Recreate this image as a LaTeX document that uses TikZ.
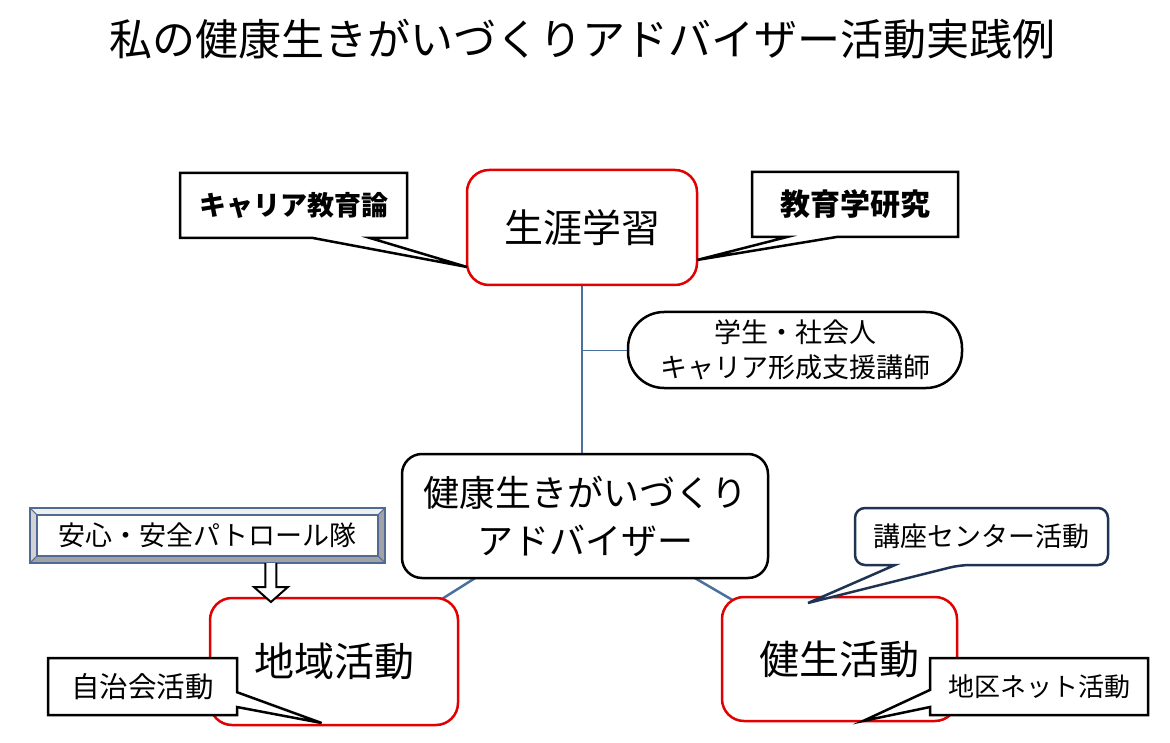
\documentclass[tikz,border=0pt]{standalone}
\usepackage{fontspec}
\setmainfont{Noto Sans CJK JP}
\usetikzlibrary{calc}

\definecolor{boxred}{RGB}{226,0,0}
\definecolor{linkblue}{RGB}{74,112,160}
\definecolor{kozanavy}{RGB}{31,52,82}
\definecolor{framecol}{RGB}{80,106,145}
\definecolor{bevellight}{RGB}{236,238,242}
\definecolor{bevelmid}{RGB}{208,210,214}
\definecolor{beveldark}{RGB}{160,162,168}

\newcommand{\jsize}[2]{\fontsize{#1}{#2}\selectfont}

\pgfdeclarelayer{bg}
\pgfdeclarelayer{fg}
\pgfsetlayers{bg,main,fg}

\begin{document}
\begin{tikzpicture}[x=1pt,y=-1pt]
\tikzstyle{every node}+=[inner sep=0pt, outer sep=0pt]
\tikzstyle{redbox}=[draw=boxred, line width=2.5pt, rounded corners=22pt, fill=white, align=center, font=\jsize{40}{48}]
\tikzstyle{advbox}=[draw=black, line width=2.5pt, rounded corners=20pt, fill=white, align=center, font=\jsize{36}{48}]
\tikzstyle{link}=[draw=linkblue, line width=2.5pt]
\tikzstyle{callbox}=[draw=black, line width=2.5pt, fill=white, line join=miter]
\tikzstyle{calltext}=[align=center, font=\jsize{27}{35}]
\tikzstyle{hollowarrow}=[draw=black, fill=white, line width=2pt, line join=miter]
\useasboundingbox (0,0) rectangle (1170,743);

% title
\node (title) at (582,39) {\jsize{43}{50}私の健康生きがいづくりアドバイザー活動実践例};

% main boxes
\node [redbox, minimum width=230pt, minimum height=115pt, font=\jsize{39}{48}] (shogai) at (582,227.5) {生涯学習};
\node [draw=black, line width=2.5pt, rounded corners=36pt, fill=white, calltext, minimum width=334pt, minimum height=76pt] (koshi) at (795,350) {学生・社会人\\キャリア形成支援講師};
\node [advbox, minimum width=366pt, minimum height=124pt] (advisor) at (585,516) {健康生きがいづくり\\アドバイザー};
\node [redbox, minimum width=248pt, minimum height=127pt] (chiiki) at (334,661.5) {地域活動};
\node [redbox, minimum width=235pt, minimum height=124pt] (kensei) at (839.5,659) {健生活動};

% connectors
\begin{pgfonlayer}{bg}
\draw [link] (shogai.south) -- (shogai.south |- advisor.north);
\draw [link, line width=1pt] (shogai.south |- koshi.west) -- (koshi.west);
\draw [link] ($(advisor.south west)!0.2!(advisor.south east)$) -- ($(chiiki.north east)+(-28,8.5)$);
\draw [link] ($(advisor.south west)!0.8!(advisor.south east)$) -- ($(kensei.north west)+(22.5,10)$);
\end{pgfonlayer}

% patrol box with bevel frame
\node [draw=framecol, line width=1.5pt, fill=white, calltext, minimum width=341pt, minimum height=41pt] (patrol) at (207.5,535.5) {安心・安全パトロール隊};
\coordinate (pNW) at ($(patrol.north west)+(-7,-7)$);
\coordinate (pNE) at ($(patrol.north east)+(7,-7)$);
\coordinate (pSW) at ($(patrol.south west)+(-7,7)$);
\coordinate (pSE) at ($(patrol.south east)+(7,7)$);
\begin{pgfonlayer}{bg}
\filldraw [fill=bevellight, draw=framecol, line width=1pt] (pNW) -- (pNE) -- (patrol.north east) -- (patrol.north west) -- cycle;
\filldraw [fill=bevelmid, draw=framecol, line width=1pt] (pNW) -- (patrol.north west) -- (patrol.south west) -- (pSW) -- cycle;
\filldraw [fill=beveldark, draw=framecol, line width=1pt] (pNE) -- (pSE) -- (patrol.south east) -- (patrol.north east) -- cycle;
\filldraw [fill=beveldark, draw=framecol, line width=1pt] (pSW) -- (patrol.south west) -- (patrol.south east) -- (pSE) -- cycle;
\draw [framecol, line width=2.5pt] (pNW) rectangle (pSE);
\end{pgfonlayer}

% hollow arrow down to chiiki
\coordinate (arrowtop) at ($(patrol.south west)!0.686!(patrol.south east)+(0,7)$);
\coordinate (arrowtip) at ($(arrowtop |- chiiki.north)+(0,4)$);
\draw [hollowarrow] ($(arrowtop)+(-5.5,0)$) -- ($(arrowtip)+(-5.5,-15)$) -- ($(arrowtip)+(-17,-15)$) -- (arrowtip) -- ($(arrowtip)+(17,-15)$) -- ($(arrowtip)+(5.5,-15)$) -- ($(arrowtop)+(5.5,0)$);

% callout texts
\begin{pgfonlayer}{fg}
\node [calltext, font=\jsize{27}{35}\bfseries, minimum width=227pt, minimum height=65pt] (kyaria) at (293.5,205.5) {キャリア教育論};
\node [calltext, font=\jsize{30}{35}\bfseries, minimum width=206pt, minimum height=65pt] (kyoiku) at (855,204.5) {教育学研究};
\node [calltext, minimum width=253pt, minimum height=57pt] (koza) at (981.5,536.5) {講座センター活動};
\node [calltext, font=\jsize{28.5}{35}, minimum width=189pt, minimum height=57pt] (jichi) at (142.5,686.5) {自治会活動};
\node [calltext, font=\jsize{26}{35}, minimum width=218pt, minimum height=57pt] (chiku) at (1039,686.5) {地区ネット活動};
\end{pgfonlayer}

% callout outlines
\coordinate (kyariatip) at ($(shogai.south west)+(0,-18)$);
\path [callbox] (kyaria.north west) -- (kyaria.north east) -- (kyaria.south east) -- ($(kyaria.south west)!0.837!(kyaria.south east)$) -- (kyariatip) -- ($(kyaria.south west)!0.586!(kyaria.south east)$) -- (kyaria.south west) -- cycle;
\coordinate (kyoikutip) at ($(shogai.south east)+(0,-25)$);
\path [callbox] (kyoiku.north west) -- (kyoiku.north east) -- (kyoiku.south east) -- ($(kyoiku.south west)!0.41!(kyoiku.south east)$) -- (kyoikutip) -- ($(kyoiku.south west)!0.17!(kyoiku.south east)$) -- (kyoiku.south west) -- cycle;
\coordinate (kozatip) at ($(kensei.north west)!0.366!(kensei.north east)+(0,6)$);
\path [callbox, draw=kozanavy, rounded corners=10pt] (koza.north west) -- (koza.north east) -- (koza.south east) -- ($(koza.south west)!0.415!(koza.south east)$) [sharp corners] -- (kozatip) -- ($(koza.south west)!0.158!(koza.south east)$) [rounded corners=10pt] -- (koza.south west) -- cycle;
\coordinate (jichitip) at ($(chiiki.south west)!0.45!(chiiki.south east)+(0,-2)$);
\path [callbox] (jichi.north west) -- (jichi.north east) -- ($(jichi.north east)!0.6!(jichi.south east)$) -- (jichitip) -- ($(jichi.north east)!0.86!(jichi.south east)$) -- (jichi.south east) -- (jichi.south west) -- cycle;
\coordinate (chikutip) at ($(kensei.south west)!0.6!(kensei.south east)$);
\path [callbox] (chiku.north west) -- (chiku.north east) -- (chiku.south east) -- (chiku.south west) -- ($(chiku.north west)!0.86!(chiku.south west)$) -- (chikutip) -- ($(chiku.north west)!0.56!(chiku.south west)$) -- cycle;
\end{tikzpicture}
\end{document}
